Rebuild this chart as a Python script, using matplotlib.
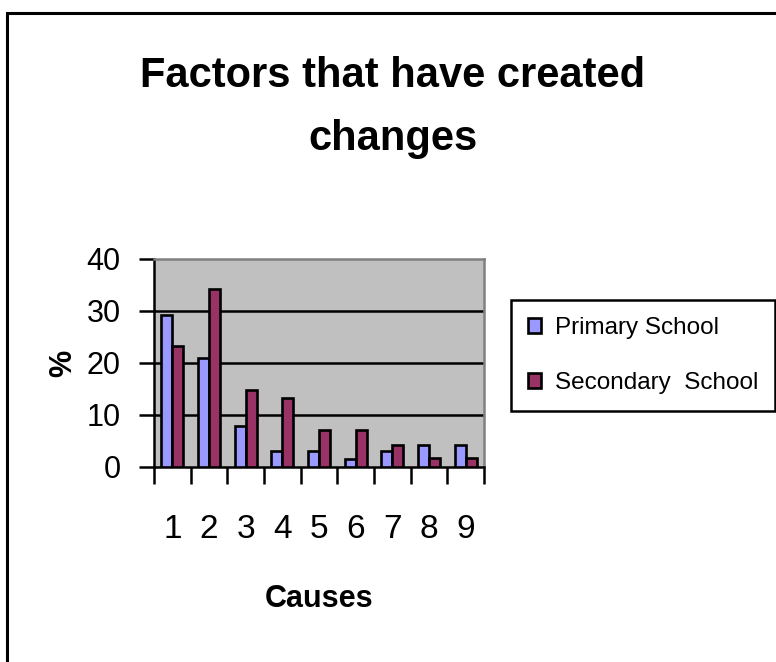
import numpy as np
import matplotlib
matplotlib.use("Agg")
import matplotlib.pyplot as plt
from matplotlib.patches import Rectangle

causes = [1, 2, 3, 4, 5, 6, 7, 8, 9]
primary = [29.3, 21.0, 7.8, 3.0, 3.0, 1.6, 3.0, 4.2, 4.2]
secondary = [23.3, 34.2, 14.9, 13.2, 7.2, 7.2, 4.2, 1.7, 1.7]
series_names = ["Primary School", "Secondary  School"]
colors = ["#9999FF", "#993366"]

plt.rcParams["font.family"] = ["Liberation Sans Narrow", "Liberation Sans", "DejaVu Sans"]

fig = plt.figure(figsize=(7.76, 6.62), dpi=100)
ax = fig.add_axes([154 / 776, 1 - 467 / 662, 330 / 776, 208 / 662])

x = np.arange(len(causes))
w = 0.3
ax.bar(x - w / 2, primary, w, color=colors[0], edgecolor="black", linewidth=1.9,
       label=series_names[0], zorder=3)
ax.bar(x + w / 2, secondary, w, color=colors[1], edgecolor="black", linewidth=1.9,
       label=series_names[1], zorder=3)

ax.set_facecolor("#C0C0C0")
ax.set_xlim(-0.5, len(causes) - 0.5)
ax.set_ylim(0, 40)
ax.set_yticks([0, 10, 20, 30, 40])
for v in [10, 20, 30]:
    ax.axhline(v, color="black", linewidth=1.8, zorder=1)

# ticks between categories, labels at centres
ax.set_xticks(x)
ax.set_xticklabels([str(c) for c in causes], fontsize=24)
ax.set_xticks(np.arange(-0.5, len(causes), 1), minor=True)
ax.tick_params(axis="x", which="major", length=0, pad=34)
ax.tick_params(axis="x", which="minor", length=12, width=1.8, direction="out")
ax.tick_params(axis="y", length=11, width=1.8, direction="out", labelsize=22, pad=13)

for side in ["left", "bottom"]:
    ax.spines[side].set_color("black")
    ax.spines[side].set_linewidth(1.8)
for side in ["top", "right"]:
    ax.spines[side].set_color("#808080")
    ax.spines[side].set_linewidth(1.8)

ax.set_xlabel("Causes", fontsize=22, fontweight="bold", labelpad=28)
ax.set_ylabel("%", fontsize=22, fontweight="bold", labelpad=6)

fig.text(393 / 776, 1 - 87 / 662, "Factors that have created", fontsize=30,
         fontweight="bold", ha="center", va="baseline")
fig.text(393 / 776, 1 - 150 / 662, "changes", fontsize=30,
         fontweight="bold", ha="center", va="baseline")

leg = ax.legend(loc="upper left", bbox_to_anchor=(511 / 776, 1 - 300 / 662),
                bbox_transform=fig.transFigure, fontsize=17.5, frameon=True,
                fancybox=False, edgecolor="black", framealpha=1,
                handlelength=0.55, handleheight=0.55, handletextpad=0.55,
                borderpad=0.7, labelspacing=1.35, borderaxespad=0)
leg.get_frame().set_linewidth(1.8)

# outer chart border
fig.patches.append(Rectangle((7 / 776, -0.1), 1.2, 1.1 - 12.5 / 662,
                             transform=fig.transFigure, fill=False,
                             edgecolor="black", linewidth=2.2))

fig.savefig("out.png", dpi=100)
